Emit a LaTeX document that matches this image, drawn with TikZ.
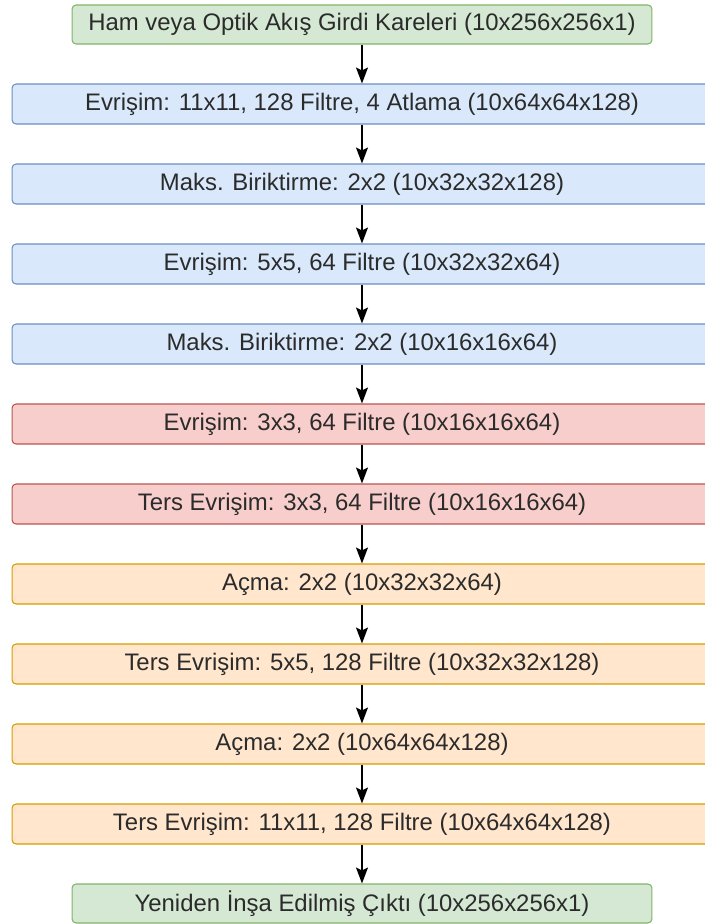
\documentclass[tikz,border=0pt]{standalone}
\usepackage{fontspec}
\setmainfont{Liberation Sans}
\usepackage{xcolor}
\usetikzlibrary{arrows.meta}

\definecolor{ioFill}{HTML}{D5E8D4}
\definecolor{ioLine}{HTML}{82B366}
\definecolor{encFill}{HTML}{DAE8FC}
\definecolor{encLine}{HTML}{6C8EBF}
\definecolor{midFill}{HTML}{F8CECC}
\definecolor{midLine}{HTML}{B85450}
\definecolor{decFill}{HTML}{FFE6CC}
\definecolor{decLine}{HTML}{D79B00}
\definecolor{labelText}{HTML}{2B2B2B}

\begin{document}
\begin{tikzpicture}[
        x=0.02cm, y=-0.02cm,
        layer/.style={
            draw,
            rectangle,
            rounded corners=0.08cm,
            line width=0.6pt,
            minimum width=14cm,
            minimum height=0.8cm,
            inner sep=0pt,
            text=labelText,
            font=\fontsize{13.6}{15}\selectfont
        },
        io/.style={layer, fill=ioFill, draw=ioLine, minimum width=11.6cm, minimum height=0.78cm},
        encoder/.style={layer, fill=encFill, draw=encLine},
        middle/.style={layer, fill=midFill, draw=midLine},
        decoder/.style={layer, fill=decFill, draw=decLine},
        arrow/.style={
            -{Stealth[length=0.32cm, width=0.24cm, inset=0.06cm]},
            line width=1.1pt
        }
    ]
    \clip (0,0) rectangle (705,924);
    \useasboundingbox (0,0) rectangle (705,924);

    \node[io] (input) at (362, 24.5) {Ham veya Optik Akış Girdi Kareleri (10x256x256x1)};

    \node[encoder] (conv1) at (362, 104) {Evrişim: 11x11, 128 Filtre, 4 Atlama (10x64x64x128)};
    \node[encoder] (pool1) at (362, 184) {Maks. Biriktirme: 2x2 (10x32x32x128)};
    \node[encoder] (conv2) at (362, 264) {Evrişim: 5x5, 64 Filtre (10x32x32x64)};
    \node[encoder] (pool2) at (362, 344) {Maks. Biriktirme: 2x2 (10x16x16x64)};

    \node[middle] (conv3) at (362, 424) {Evrişim: 3x3, 64 Filtre (10x16x16x64)};
    \node[middle] (deconv3) at (362, 504) {Ters Evrişim: 3x3, 64 Filtre (10x16x16x64)};

    \node[decoder] (unpool2) at (362, 584) {Açma: 2x2 (10x32x32x64)};
    \node[decoder] (deconv2) at (362, 664) {Ters Evrişim: 5x5, 128 Filtre (10x32x32x128)};
    \node[decoder] (unpool1) at (362, 744) {Açma: 2x2 (10x64x64x128)};
    \node[decoder] (deconv1) at (362, 824) {Ters Evrişim: 11x11, 128 Filtre (10x64x64x128)};

    \node[io] (output) at (362, 903.5) {Yeniden İnşa Edilmiş Çıktı (10x256x256x1)};

    \draw[arrow] (input) to (conv1);
    \draw[arrow] (conv1) to (pool1);
    \draw[arrow] (pool1) to (conv2);
    \draw[arrow] (conv2) to (pool2);
    \draw[arrow] (pool2) to (conv3);
    \draw[arrow] (conv3) to (deconv3);
    \draw[arrow] (deconv3) to (unpool2);
    \draw[arrow] (unpool2) to (deconv2);
    \draw[arrow] (deconv2) to (unpool1);
    \draw[arrow] (unpool1) to (deconv1);
    \draw[arrow] (deconv1) to (output);

\end{tikzpicture}
\end{document}
